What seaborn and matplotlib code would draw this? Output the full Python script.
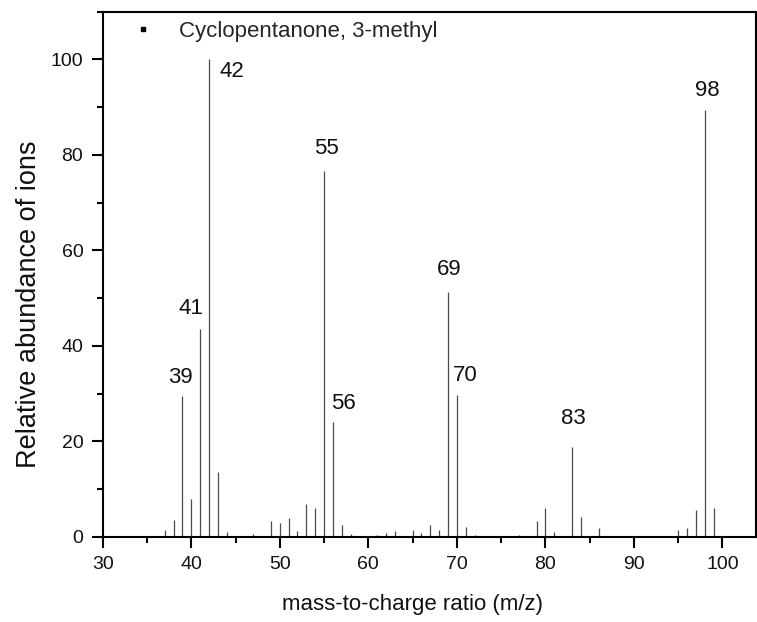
import matplotlib
matplotlib.use("Agg")
import matplotlib.pyplot as plt
from matplotlib.lines import Line2D
from matplotlib.ticker import MultipleLocator
import seaborn as sns
import pandas as pd

# EI mass spectrum of 3-methylcyclopentanone
mz = [37, 38, 39, 40, 41, 42, 43, 44, 47, 49, 50, 51, 52, 53, 54, 55, 56, 57, 58,
      61, 62, 63, 65, 66, 67, 68, 69, 70, 71, 72, 77, 79, 80, 81, 83, 84, 86,
      95, 96, 97, 98, 99]
abundance = [1.5, 3.6, 29.5, 8.0, 43.6, 100.0, 13.6, 0.9, 0.5, 3.3, 2.9, 4.0, 1.2, 6.8, 6.1,
             76.7, 24.1, 2.4, 0.5, 0.4, 0.8, 1.2, 1.3, 0.7, 2.4, 1.3, 51.3, 29.6, 2.1, 0.3,
             0.4, 3.3, 6.1, 1.0, 18.7, 4.1, 1.8, 1.4, 1.8, 5.6, 89.5, 6.0]
labelled_peaks = [39, 41, 42, 55, 56, 69, 70, 83, 98]
compound = "Cyclopentanone, 3-methyl"

# label placement relative to the top of each labelled line (pixels)
label_offsets = {39: (-2, 13), 41: (-9, 15), 42: (23, -18), 55: (2, 17), 56: (11, 13),
                 69: (1, 17), 70: (8, 14), 83: (1, 23), 98: (3, 14)}

df = pd.DataFrame({"mz": mz, "abundance": abundance})

sns.set_theme(style="ticks")
plt.rcParams["font.family"] = ["Liberation Sans", "DejaVu Sans"]

fig = plt.figure(figsize=(7.57, 6.22), dpi=100)
ax = fig.add_axes([102.7 / 757, 85.3 / 622, 653 / 757, 525 / 622])

ax.vlines(df["mz"], 0, df["abundance"], colors="#4a4a4a", linewidth=0.9)

for m in labelled_peaks:
    h = df.loc[df["mz"] == m, "abundance"].iloc[0]
    dx, dy = label_offsets[m]
    ax.annotate(str(m), xy=(m, h), xytext=(dx, dy), textcoords="offset pixels",
                ha="center", va="baseline", fontsize=16, color="#111111")

ax.set_xlim(30, 103.75)
ax.set_ylim(0, 110)
ax.xaxis.set_major_locator(MultipleLocator(10))
ax.xaxis.set_minor_locator(MultipleLocator(5))
ax.yaxis.set_major_locator(MultipleLocator(20))
ax.yaxis.set_minor_locator(MultipleLocator(10))
ax.tick_params(which="major", direction="out", length=8, width=1.5, labelsize=14,
               color="black", labelcolor="#111111", pad=6)
ax.tick_params(which="minor", direction="out", length=4.5, width=1.5, color="black")
ax.tick_params(top=False, right=False)
for side in ["left", "right", "top", "bottom"]:
    ax.spines[side].set_visible(True)
    ax.spines[side].set_linewidth(1.5)
    ax.spines[side].set_color("black")

ax.set_xlabel("mass-to-charge ratio (m/z)", fontsize=16, color="#111111")
ax.xaxis.set_label_coords((413 - 102.7) / 653, -(594 - 536.7) / 525)
ax.set_ylabel("Relative abundance of ions", fontsize=19.5, color="#111111")
ax.yaxis.set_label_coords(-(102.7 - 42) / 653, (536.7 - 304) / 525)

handle = Line2D([], [], marker="s", markersize=3, color="black", linestyle="none")
ax.legend([handle], [compound], loc="upper left", bbox_to_anchor=(0.045, 0.982),
          frameon=False, fontsize=16, handlelength=1.0, handletextpad=1.1,
          borderpad=0, borderaxespad=0)

fig.savefig("out.png", dpi=100)
